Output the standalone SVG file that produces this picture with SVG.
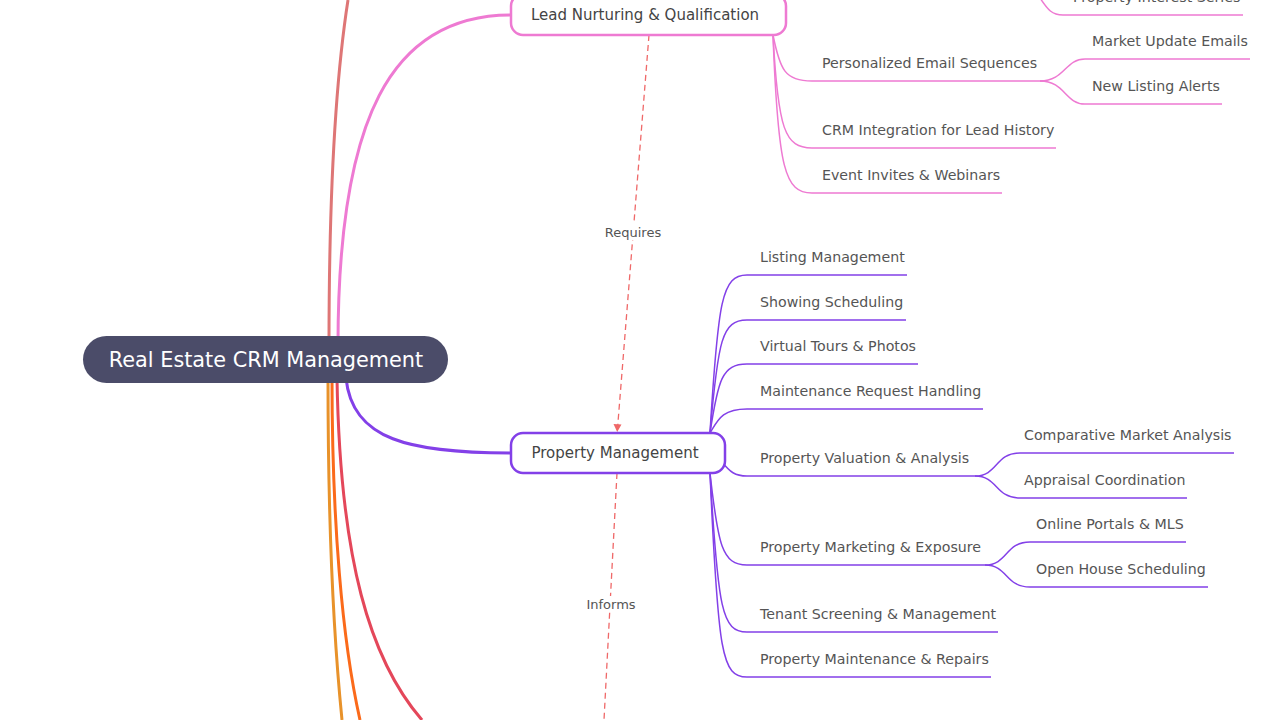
<svg xmlns="http://www.w3.org/2000/svg" width="1280" height="720" viewBox="0 0 1280 720">
<defs>
<style>
text{font-family:"DejaVu Sans","Liberation Sans",sans-serif;fill:#555;}
.leaf{font-size:14.2px;}
.node{font-size:15px;text-anchor:middle;fill:#444;}
.rel{font-size:13px;text-anchor:middle;fill:#555;}
.pk{stroke:#ee7ad2;fill:none;stroke-width:1.5;}
.pu{stroke:#8340e8;fill:none;stroke-width:1.5;}
.dash{stroke:#ef6868;fill:none;stroke-width:1.3;stroke-dasharray:6 4;}
</style>
<marker id="arr" viewBox="0 0 10 10" refX="10" refY="5" markerWidth="8" markerHeight="8" orient="auto" markerUnits="userSpaceOnUse">
<path d="M0,0 L10,5 L0,10 z" fill="#ef6868"/>
</marker>
</defs>
<rect width="1280" height="720" fill="#fff"/>
<g id="connectors">
<path d="M329 345 C329 220 334 90 348 0" stroke="#de7676" stroke-width="3" fill="none"/>
<path d="M338 345 C338 120 390 15 511 15" stroke="#ee7ad2" stroke-width="3" fill="none"/>
<path d="M346 378 C352 440 410 453 511 453" stroke="#8340e8" stroke-width="3" fill="none"/>
<path d="M328 378 C328 520 334 640 342 720" stroke="#e8922a" stroke-width="3" fill="none"/>
<path d="M332 378 C332 520 342 640 360 720" stroke="#fb6a1a" stroke-width="3" fill="none"/>
<path d="M337 378 C340 560 370 660 422 720" stroke="#e4475a" stroke-width="3" fill="none"/>
<!-- LNQ children -->
<path class="pk" d="M781 -2 C784 -4 787 -6 792 -10"/>
<path class="pk" d="M773 35 C780 70 785 81 812 81 L1045 81"/>
<path class="pk" d="M1040 81 C1065 81 1065 59 1085 59 L1250 59"/>
<path class="pk" d="M1040 81 C1065 81 1065 104 1085 104 L1222 104"/>
<path class="pk" d="M773 35 C778 130 785 148 812 148 L1056 148"/>
<path class="pk" d="M773 35 C778 170 785 193 812 193 L1002 193"/>
<path class="pk" d="M1040 -2 C1048 10 1052 15 1063 15 L1243 15"/>
<!-- PM children -->
<path class="pu" d="M710 433 C718 300 722 275 747 275 L907 275"/>
<path class="pu" d="M710 433 C718 340 722 320 747 320 L906 320"/>
<path class="pu" d="M710 433 C718 380 722 364 747 364 L918 364"/>
<path class="pu" d="M710 433 C718 420 722 409 747 409 L983 409"/>
<path class="pu" d="M722 462 C730 472 735 476 747 476 L975 476"/>
<path class="pu" d="M975 476 C998 476 995 453 1020 453 L1234 453"/>
<path class="pu" d="M975 476 C998 476 995 498 1020 498 L1187 498"/>
<path class="pu" d="M710 473 C718 545 722 565 747 565 L985 565"/>
<path class="pu" d="M985 565 C1008 565 1005 542 1030 542 L1186 542"/>
<path class="pu" d="M985 565 C1008 565 1005 587 1030 587 L1208 587"/>
<path class="pu" d="M710 473 C718 610 722 632 747 632 L998 632"/>
<path class="pu" d="M710 473 C718 655 722 677 747 677 L991 677"/>
<!-- relations -->
<path class="dash" d="M649 35 L617.3 431"/>
<path d="M613.5 424 L621.5 424.6 L617.2 432 z" fill="#ef6868"/>
<path class="dash" d="M617 473 L604 720"/>
</g>
<g id="rel-labels">
<rect x="602" y="224" width="62" height="16" fill="#fff"/>
<text class="rel" x="633" y="237">Requires</text>
<rect x="584" y="596" width="54" height="16" fill="#fff"/>
<text class="rel" x="611" y="609">Informs</text>
</g>
<g id="root">
<rect x="83" y="336" width="365" height="47" rx="23.5" fill="#4b4c69"/>
<text x="266" y="367" style="font-size:20.8px;fill:#fff;text-anchor:middle">Real Estate CRM Management</text>
</g>
<g id="lead-nurturing">
<rect x="511" y="-6" width="275" height="41" rx="12" fill="#fff" stroke="#ee7ad2" stroke-width="2.5"/>
<text class="node" x="645" y="20">Lead Nurturing &amp; Qualification</text>
</g>
<g id="property-management">
<rect x="511" y="433" width="214" height="40" rx="12" fill="#fff" stroke="#8340e8" stroke-width="2.5"/>
<text class="node" x="615" y="458">Property Management</text>
</g>
<g id="lnq-leaves">
<text class="leaf" x="1073" y="2">Property Interest Series</text>
<text class="leaf" x="822" y="68">Personalized Email Sequences</text>
<text class="leaf" x="1092" y="46">Market Update Emails</text>
<text class="leaf" x="1092" y="91">New Listing Alerts</text>
<text class="leaf" x="822" y="135">CRM Integration for Lead History</text>
<text class="leaf" x="822" y="180">Event Invites &amp; Webinars</text>
</g>
<g id="pm-leaves">
<text class="leaf" x="760" y="262">Listing Management</text>
<text class="leaf" x="760" y="307">Showing Scheduling</text>
<text class="leaf" x="760" y="351">Virtual Tours &amp; Photos</text>
<text class="leaf" x="760" y="396">Maintenance Request Handling</text>
<text class="leaf" x="760" y="463">Property Valuation &amp; Analysis</text>
<text class="leaf" x="1024" y="440">Comparative Market Analysis</text>
<text class="leaf" x="1024" y="485">Appraisal Coordination</text>
<text class="leaf" x="760" y="552">Property Marketing &amp; Exposure</text>
<text class="leaf" x="1036" y="529">Online Portals &amp; MLS</text>
<text class="leaf" x="1036" y="574">Open House Scheduling</text>
<text class="leaf" x="760" y="619">Tenant Screening &amp; Management</text>
<text class="leaf" x="760" y="664">Property Maintenance &amp; Repairs</text>
</g>
</svg>
